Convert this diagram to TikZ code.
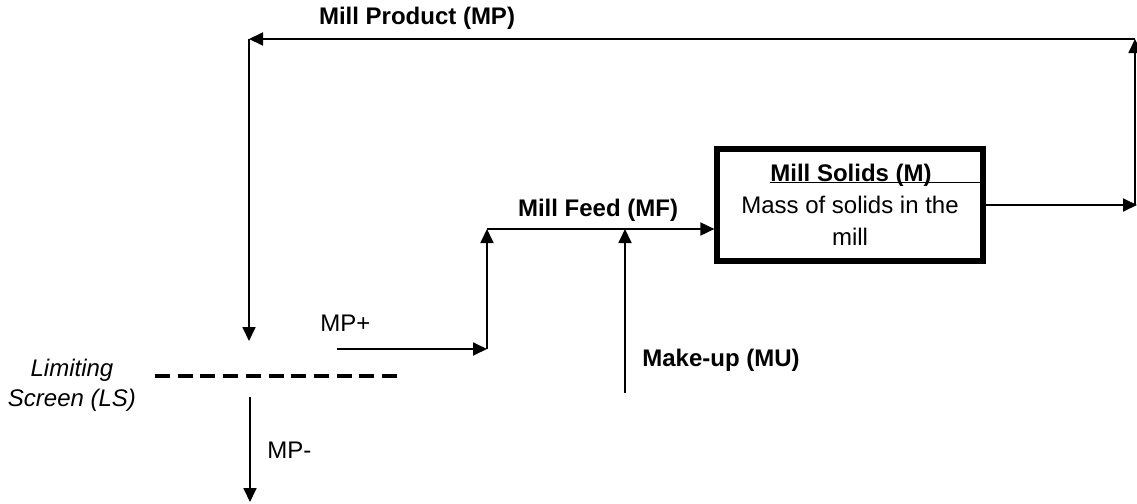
\documentclass[tikz,border=0pt]{standalone}
\usepackage{fontspec}
\setmainfont{Liberation Sans}
\usetikzlibrary{arrows.meta}

\begin{document}
\begin{tikzpicture}[x=0.5pt,y=-0.5pt,>={Triangle[length=7pt,width=6.5pt]}]
    \tikzset{
      flow/.style={->,line width=0.9pt},
      lbl/.style={font=\fontsize{12}{15}\selectfont,inner sep=0pt},
      blbl/.style={lbl,font=\fontsize{12}{15}\selectfont\bfseries},
      millbox/.style={draw,line width=2.6pt,minimum width=133pt,
        minimum height=56pt,inner sep=0pt},
      screen/.style={line width=2pt,dash pattern=on 7.5pt off 3.85pt}
    }
    \useasboundingbox (0,0) rectangle (1137,504);
    % mill
    \node[millbox] (mill) at (850,205) {};
    \node[blbl] (title) at (851,175) {Mill Solids (M)};
    \node[lbl,align=center,font=\fontsize{12}{16}\selectfont] (body) at (850,221)
      {Mass of solids in the\\mill};
    \coordinate (ul) at ([yshift=-0.6pt]title.base west);
    \draw[line width=0.9pt] (ul) -- (ul -| mill.east);
    % points of the flows
    \coordinate (outR) at (1135,205);
    \coordinate (topR) at (1135,39);
    \coordinate (topL) at (249,39);
    \coordinate (prodEnd) at (249,341);
    \coordinate (scrL) at (155,376);
    \coordinate (scrR) at (397,376);
    \coordinate (minS) at (250,397);
    \coordinate (minE) at (250,502);
    \coordinate (plusS) at (337,349);
    \coordinate (plusE) at (487,349);
    \coordinate (feedL) at (487,229);
    \coordinate (muS) at (625,393);
    \coordinate (muE) at (625,229);
    \draw[flow] (mill.east) -- ([xshift=1pt]outR);
    \draw[flow] (outR) -- (topR);
    \draw[flow] (topR) -- (topL);
    \draw[flow] (topL) -- (prodEnd);
    \draw[screen] (scrL) -- (scrR);
    \draw[flow] (minS) -- (minE);
    \draw[flow] (plusS) -- (plusE);
    \draw[flow] (plusE) -- (feedL);
    \draw[flow] (feedL) -- (mill.west |- feedL);
    \draw[flow] (muS) -- (muE);
    % labels
    \node[blbl] (mpLbl) at (417,18) {Mill Product (MP)};
    \node[blbl] (mfLbl) at (598,210) {Mill Feed (MF)};
    \node[blbl,anchor=west] (muLbl) at (642,360) {Make-up (MU)};
    \node[lbl,anchor=west] (plusLbl) at (320,323) {MP+};
    \node[lbl,anchor=west] (minLbl) at (267,450) {MP-};
    \node[lbl,align=center,font=\fontsize{12}{15}\selectfont\itshape] (lsLbl)
      at (72,385) {Limiting\\Screen (LS)};
\end{tikzpicture}
\end{document}
